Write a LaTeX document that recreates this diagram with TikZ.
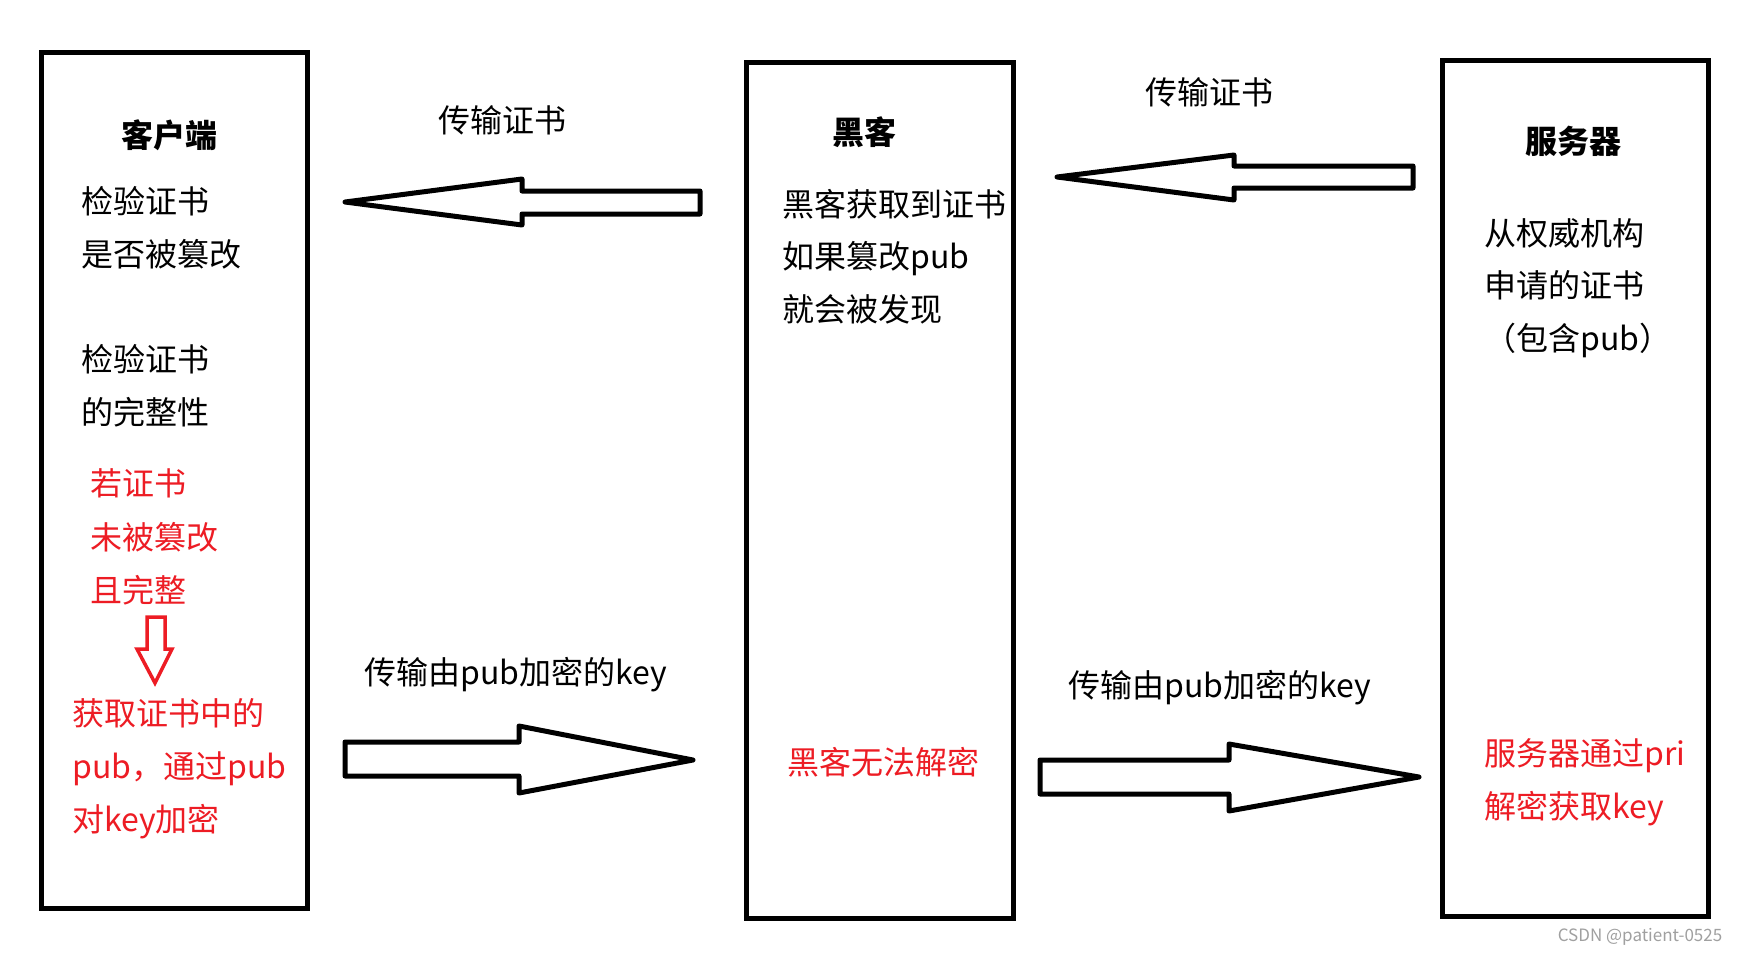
\documentclass[tikz,border=0pt]{standalone}
\usepackage{fontspec}
\setmainfont{Noto Sans CJK SC}
\definecolor{pred}{RGB}{237,28,36}
\definecolor{wm}{RGB}{160,160,160}
\begin{document}
\begin{tikzpicture}[x=1pt,y=-1pt,
  box/.style={draw, line width=5pt, minimum width=266pt, minimum height=856pt, inner sep=0pt, outer sep=0pt},
  blockarrow/.style={draw, line width=5pt, line join=round, fill=white},
  redarrow/.style={draw=pred, line width=3.5pt, line join=miter, fill=white},
  txt/.style={anchor=west, inner sep=0pt, font=\fontsize{32}{38}\selectfont, text height=29pt, text depth=3pt},
  ttl/.style={anchor=center, inner sep=0pt, font=\fontsize{32}{38}\selectfont\bfseries, text height=29pt, text depth=3pt},
  lbl/.style={anchor=center, inner sep=0pt, font=\fontsize{32}{38}\selectfont, text height=29pt, text depth=3pt},
  rtxt/.style={txt, text=pred}
]
\fill[white] (0,0) rectangle (1739,956);
\useasboundingbox (0,0) rectangle (1739,956);

% boxes
\node[box] (client) at (174,480) {};
\node[box, minimum width=267pt] (hacker) at (879.5,490) {};
\node[box] (server) at (1575,488) {};

% block arrows
\draw[blockarrow] (345,202) -- (522,179) -- (522,191) -- (700,191) -- (700,214) -- (522,214) -- (522,225) -- cycle;
\draw[blockarrow] (1057,177) -- (1234,155) -- (1234,166) -- (1413,166) -- (1413,188) -- (1234,188) -- (1234,200) -- cycle;
\draw[blockarrow] (345,742) -- (519,742) -- (519,726) -- (693,760) -- (519,793) -- (519,776) -- (345,776) -- cycle;
\draw[blockarrow] (1040,760) -- (1229,760) -- (1229,744) -- (1419,777) -- (1229,811) -- (1229,794) -- (1040,794) -- cycle;

% red down arrow
\draw[redarrow] (147,617) -- (165,617) -- (165,649) -- (172,649) -- (155,683) -- (137,649) -- (147,649) -- cycle;

% arrow labels
\node[lbl] (l1) at (502,119) {传输证书};
\node[lbl] (l2) at (1209,91) {传输证书};
\node[lbl] (l3) at (516,671) {传输由pub加密的key};
\node[lbl] (l4) at (1220,684) {传输由pub加密的key};

% client
\node[ttl] (ct) at (169,134) {客户端};
\node[txt] (c1) at (81,200) {检验证书};
\node[txt] (c2) at (81,253) {是否被篡改};
\node[txt] (c3) at (81,358) {检验证书};
\node[txt] (c4) at (81,411) {的完整性};
\node[rtxt] (c5) at (90,482) {若证书};
\node[rtxt] (c6) at (90,536) {未被篡改};
\node[rtxt] (c7) at (90,589) {且完整};
\node[rtxt] (c8) at (72,712) {获取证书中的};
\node[rtxt] (c9) at (72,765) {pub，通过pub};
\node[rtxt] (c10) at (72,818) {对key加密};

% hacker
\node[ttl] (ht) at (864,131) {黑客};
\node[txt] (h1) at (782,203) {黑客获取到证书};
\node[txt] (h2) at (782,255) {如果篡改pub};
\node[txt] (h3) at (782,308) {就会被发现};
\node[rtxt] (h4) at (787,761) {黑客无法解密};

% server
\node[ttl] (st) at (1573,140) {服务器};
\node[txt] (s1) at (1484,232) {从权威机构};
\node[txt] (s2) at (1484,284) {申请的证书};
\node[txt] (s3) at (1484,337) {（包含pub）};
\node[rtxt] (s4) at (1484,752) {服务器通过pri};
\node[rtxt] (s5) at (1484,805) {解密获取key};

% watermark
\node[anchor=center, inner sep=0pt, text=wm, font=\fontsize{17}{20}\selectfont] (wmk) at (1640,937) {CSDN @patient-0525};
\end{tikzpicture}
\end{document}
